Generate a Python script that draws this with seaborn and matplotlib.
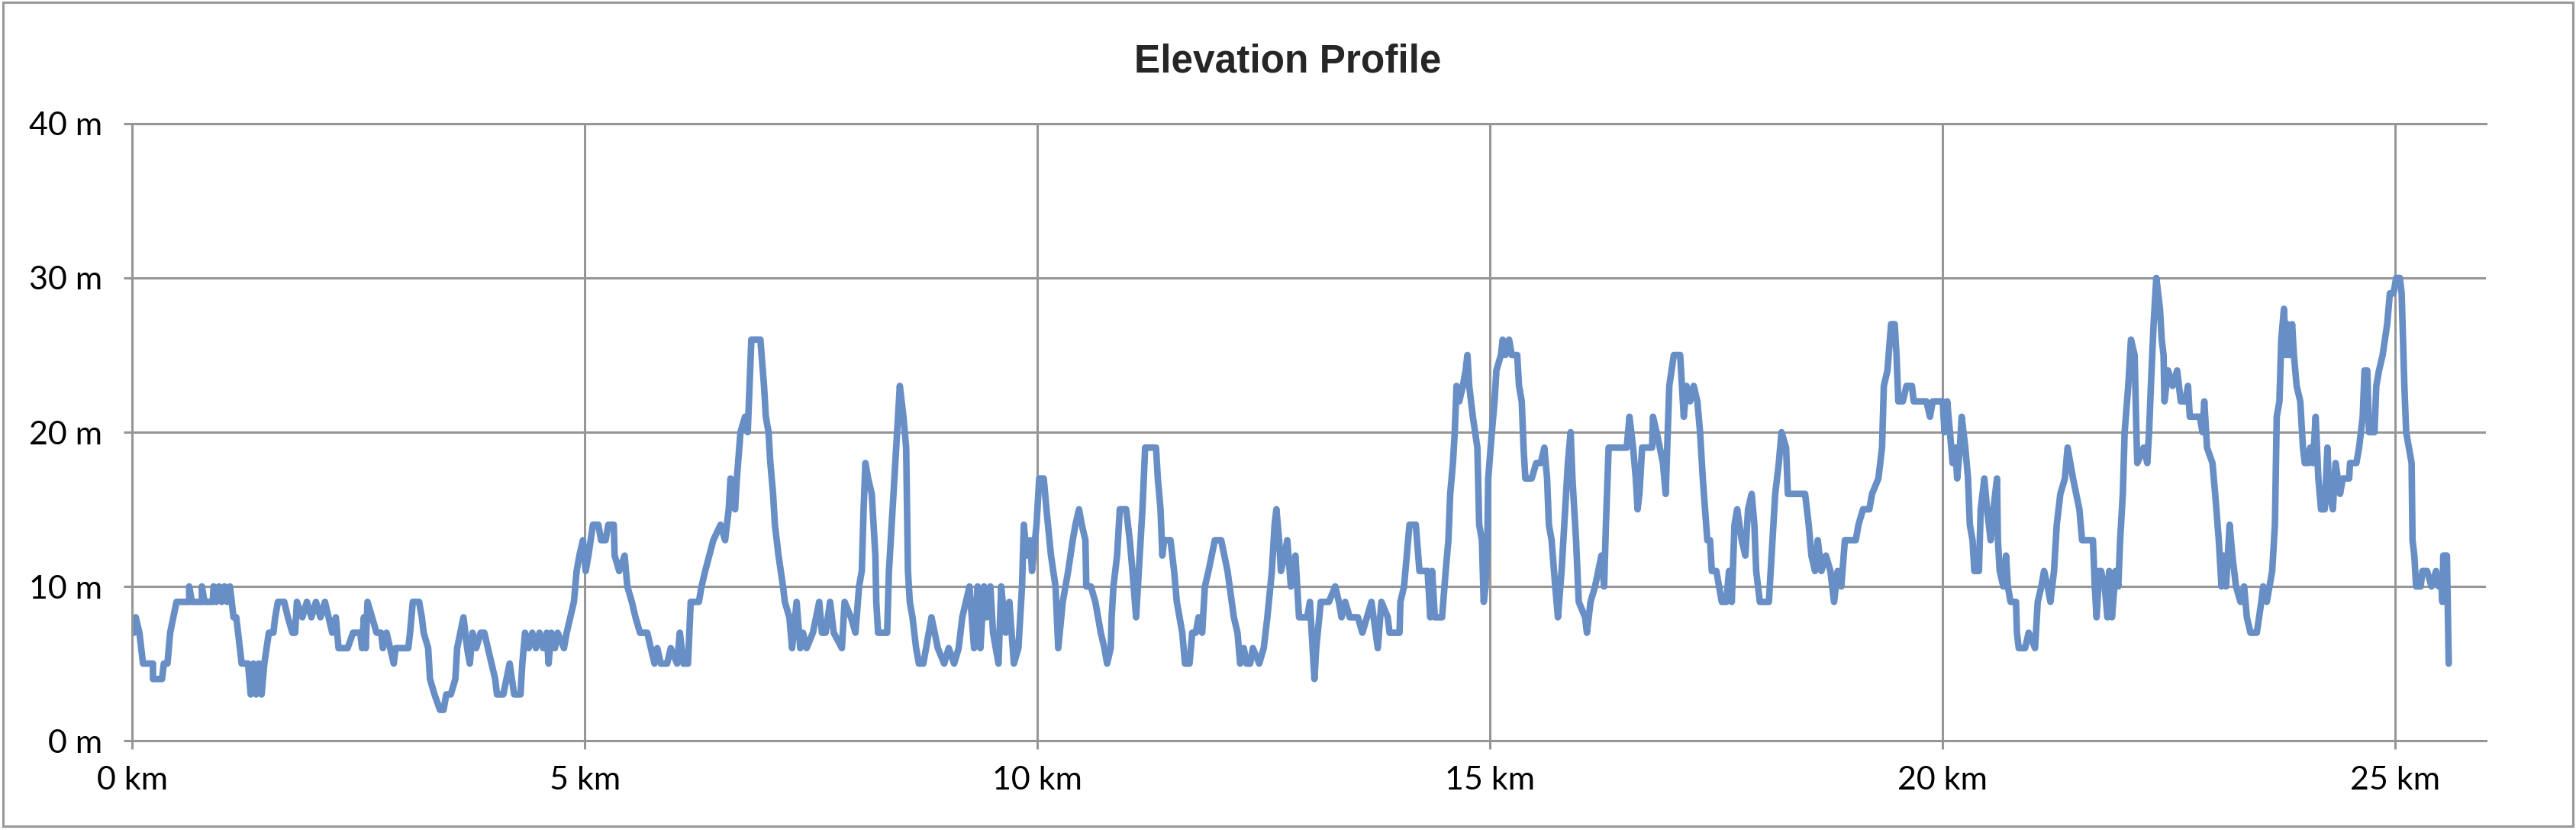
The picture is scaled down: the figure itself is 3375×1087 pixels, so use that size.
import matplotlib
matplotlib.use("Agg")
import matplotlib.pyplot as plt
import matplotlib.patches as patches
import seaborn as sns

# Elevation profile (km, m)
distance_km = [
    0.00, 0.02, 0.04, 0.08, 0.12, 0.23, 0.23, 0.33, 0.35, 0.39, 0.42, 0.49, 0.63, 0.63, 0.66, 0.77,
    0.77, 0.80, 0.89, 0.90, 0.93, 0.96, 0.99, 1.02, 1.05, 1.08, 1.12, 1.15, 1.21, 1.28, 1.31, 1.34,
    1.37, 1.40, 1.43, 1.46, 1.51, 1.56, 1.58, 1.61, 1.68, 1.72, 1.77, 1.80, 1.82, 1.88, 1.93, 1.98,
    2.03, 2.08, 2.13, 2.17, 2.21, 2.25, 2.28, 2.38, 2.44, 2.52, 2.54, 2.56, 2.58, 2.60, 2.65, 2.70,
    2.75, 2.77, 2.81, 2.85, 2.89, 2.91, 3.05, 3.07, 3.10, 3.17, 3.20, 3.22, 3.27, 3.29, 3.34, 3.40,
    3.44, 3.47, 3.52, 3.57, 3.59, 3.66, 3.70, 3.73, 3.76, 3.80, 3.85, 3.89, 3.93, 3.97, 4.01, 4.03,
    4.10, 4.17, 4.22, 4.29, 4.31, 4.34, 4.38, 4.42, 4.46, 4.50, 4.54, 4.58, 4.60, 4.63, 4.67, 4.70,
    4.77, 4.80, 4.84, 4.88, 4.91, 4.94, 4.98, 5.01, 5.04, 5.09, 5.15, 5.18, 5.23, 5.26, 5.32, 5.33,
    5.38, 5.44, 5.47, 5.52, 5.56, 5.61, 5.69, 5.73, 5.77, 5.80, 5.84, 5.91, 5.95, 6.02, 6.05, 6.09,
    6.14, 6.17, 6.26, 6.29, 6.33, 6.42, 6.50, 6.55, 6.59, 6.61, 6.64, 6.66, 6.68, 6.72, 6.77, 6.80,
    6.82, 6.84, 6.94, 6.98, 7.00, 7.03, 7.05, 7.08, 7.10, 7.14, 7.19, 7.21, 7.26, 7.29, 7.34, 7.38,
    7.41, 7.45, 7.52, 7.59, 7.62, 7.66, 7.71, 7.75, 7.84, 7.87, 7.94, 7.99, 8.03, 8.06, 8.08, 8.10,
    8.13, 8.17, 8.19, 8.21, 8.22, 8.24, 8.34, 8.36, 8.38, 8.41, 8.45, 8.48, 8.52, 8.55, 8.57, 8.59,
    8.62, 8.66, 8.69, 8.74, 8.80, 8.83, 8.90, 8.97, 9.02, 9.08, 9.13, 9.17, 9.25, 9.30, 9.34, 9.37,
    9.41, 9.44, 9.48, 9.51, 9.57, 9.60, 9.65, 9.69, 9.74, 9.79, 9.83, 9.85, 9.88, 9.92, 9.94, 9.99,
    10.02, 10.07, 10.10, 10.15, 10.20, 10.23, 10.28, 10.34, 10.39, 10.42, 10.46, 10.49, 10.53, 10.54,
    10.59, 10.64, 10.70, 10.74, 10.77, 10.81, 10.82, 10.84, 10.88, 10.91, 10.98, 11.02, 11.05, 11.09,
    11.12, 11.16, 11.19, 11.31, 11.33, 11.36, 11.38, 11.40, 11.47, 11.51, 11.54, 11.60, 11.63, 11.68,
    11.71, 11.75, 11.78, 11.82, 11.85, 11.89, 11.96, 12.03, 12.10, 12.17, 12.21, 12.24, 12.28, 12.31,
    12.35, 12.38, 12.45, 12.50, 12.54, 12.59, 12.62, 12.64, 12.67, 12.69, 12.73, 12.76, 12.80, 12.85,
    12.89, 12.98, 13.01, 13.03, 13.06, 13.08, 13.13, 13.22, 13.29, 13.33, 13.36, 13.40, 13.45, 13.54,
    13.59, 13.64, 13.69, 13.76, 13.80, 13.87, 13.89, 14.00, 14.01, 14.05, 14.11, 14.18, 14.22, 14.31,
    14.34, 14.36, 14.39, 14.47, 14.51, 14.54, 14.56, 14.59, 14.61, 14.63, 14.66, 14.70, 14.73, 14.75,
    14.77, 14.81, 14.86, 14.88, 14.91, 14.93, 14.95, 14.97, 14.98, 15.02, 15.05, 15.07, 15.12, 15.14,
    15.17, 15.21, 15.24, 15.30, 15.32, 15.35, 15.37, 15.39, 15.46, 15.51, 15.56, 15.60, 15.63, 15.65,
    15.68, 15.72, 15.75, 15.79, 15.82, 15.86, 15.89, 15.91, 15.95, 15.98, 16.05, 16.07, 16.11, 16.16,
    16.23, 16.26, 16.28, 16.31, 16.51, 16.54, 16.58, 16.61, 16.63, 16.65, 16.68, 16.79, 16.80, 16.84,
    16.91, 16.94, 16.98, 17.03, 17.10, 17.14, 17.17, 17.21, 17.25, 17.29, 17.32, 17.35, 17.40, 17.43,
    17.45, 17.50, 17.56, 17.61, 17.64, 17.67, 17.70, 17.73, 17.78, 17.82, 17.85, 17.89, 17.92, 17.94,
    17.98, 18.08, 18.12, 18.15, 18.19, 18.22, 18.27, 18.29, 18.48, 18.52, 18.55, 18.59, 18.62, 18.66,
    18.71, 18.76, 18.80, 18.84, 18.88, 18.92, 19.04, 19.07, 19.12, 19.19, 19.22, 19.29, 19.33, 19.35,
    19.39, 19.43, 19.47, 19.49, 19.51, 19.56, 19.60, 19.66, 19.68, 19.82, 19.86, 19.89, 20.00, 20.02,
    20.05, 20.08, 20.11, 20.14, 20.16, 20.19, 20.21, 20.25, 20.28, 20.30, 20.33, 20.35, 20.40, 20.42,
    20.46, 20.49, 20.53, 20.56, 20.60, 20.61, 20.63, 20.67, 20.70, 20.72, 20.75, 20.81, 20.82, 20.84,
    20.91, 20.95, 21.02, 21.05, 21.09, 21.12, 21.16, 21.19, 21.23, 21.26, 21.30, 21.35, 21.38, 21.44,
    21.51, 21.54, 21.66, 21.68, 21.70, 21.73, 21.75, 21.79, 21.82, 21.84, 21.87, 21.91, 21.94, 21.96,
    21.99, 22.01, 22.05, 22.08, 22.12, 22.14, 22.15, 22.22, 22.26, 22.28, 22.30, 22.33, 22.34, 22.36,
    22.40, 22.42, 22.44, 22.45, 22.49, 22.54, 22.59, 22.63, 22.68, 22.71, 22.73, 22.84, 22.87, 22.89,
    22.92, 22.98, 23.01, 23.05, 23.08, 23.10, 23.13, 23.17, 23.20, 23.24, 23.29, 23.33, 23.36, 23.40,
    23.47, 23.52, 23.54, 23.58, 23.61, 23.64, 23.67, 23.69, 23.72, 23.74, 23.77, 23.79, 23.81, 23.83,
    23.86, 23.88, 23.91, 23.95, 23.98, 24.00, 24.04, 24.06, 24.09, 24.12, 24.15, 24.18, 24.22, 24.25,
    24.27, 24.31, 24.34, 24.39, 24.42, 24.49, 24.50, 24.57, 24.60, 24.64, 24.66, 24.69, 24.71, 24.77,
    24.79, 24.82, 24.86, 24.91, 24.94, 24.98, 25.01, 25.05, 25.07, 25.09, 25.10, 25.12, 25.18, 25.19,
    25.21, 25.23, 25.28, 25.30, 25.35, 25.40, 25.45, 25.48, 25.51, 25.52, 25.53, 25.57, 25.59,
]
elevation_m = [
    8, 7, 8, 7, 5, 5, 4, 4, 5, 5, 7, 9, 9, 10, 9, 9,
    10, 9, 9, 10, 9, 10, 9, 10, 9, 10, 8, 8, 5, 5, 3, 5,
    3, 5, 3, 5, 7, 7, 8, 9, 9, 8, 7, 7, 9, 8, 9, 8,
    9, 8, 9, 8, 7, 8, 6, 6, 7, 7, 6, 8, 6, 9, 8, 7,
    7, 6, 7, 6, 5, 6, 6, 7, 9, 9, 8, 7, 6, 4, 3, 2,
    2, 3, 3, 4, 6, 8, 6, 5, 7, 6, 7, 7, 6, 5, 4, 3,
    3, 5, 3, 3, 5, 7, 6, 7, 6, 7, 6, 7, 5, 7, 6, 7,
    6, 7, 8, 9, 11, 12, 13, 11, 12, 14, 14, 13, 13, 14, 14, 12,
    11, 12, 10, 9, 8, 7, 7, 6, 5, 6, 5, 5, 6, 5, 7, 5,
    5, 9, 9, 10, 11, 13, 14, 13, 15, 17, 16, 15, 17, 20, 21, 20,
    23, 26, 26, 23, 21, 20, 18, 16, 14, 12, 10, 9, 8, 6, 9, 6,
    7, 6, 7, 9, 7, 7, 9, 7, 6, 9, 8, 7, 10, 11, 15, 18,
    17, 16, 14, 12, 9, 7, 7, 11, 13, 16, 20, 23, 21, 19, 11, 9,
    8, 6, 5, 5, 7, 8, 6, 5, 6, 5, 6, 8, 10, 6, 10, 6,
    10, 8, 10, 7, 5, 10, 7, 9, 5, 6, 10, 14, 12, 13, 11, 14,
    17, 17, 15, 12, 10, 6, 9, 11, 13, 14, 15, 14, 13, 10,
    10, 9, 7, 6, 5, 6, 8, 10, 12, 15, 15, 13, 11, 8,
    11, 15, 19, 19, 17, 15, 12, 13, 13, 11, 9, 7, 5, 5,
    7, 7, 8, 7, 10, 11, 13, 13, 11, 8, 7, 5, 6, 5,
    5, 6, 5, 6, 8, 11, 14, 15, 13, 11, 12, 13, 10, 12,
    8, 8, 9, 7, 4, 6, 9, 9, 10, 9, 8, 9, 8, 8,
    7, 8, 9, 6, 9, 8, 7, 7, 9, 10, 14, 14, 11, 11,
    8, 11, 8, 8, 11, 13, 16, 18, 20, 23, 22, 23, 24, 25,
    23, 21, 19, 14, 13, 9, 10, 13, 17, 20, 22, 24, 25, 26,
    25, 26, 25, 25, 23, 22, 19, 17, 17, 18, 18, 19, 17, 14,
    13, 10, 8, 11, 14, 18, 20, 17, 13, 9, 8, 7, 9, 10,
    12, 10, 14, 19, 19, 21, 19, 17, 15, 16, 19, 19, 21, 20,
    18, 16, 23, 25, 25, 21, 23, 22, 23, 22, 20, 17, 13, 13,
    11, 11, 9, 9, 11, 9, 14, 15, 13, 12, 15, 16, 14, 11,
    9, 9, 13, 16, 18, 20, 19, 16, 16, 14, 12, 11, 13, 11,
    12, 11, 9, 11, 10, 13, 13, 14, 15, 15, 16, 17, 19, 23,
    24, 27, 27, 25, 22, 22, 23, 23, 22, 22, 21, 22, 22, 20,
    22, 20, 18, 19, 17, 19, 21, 19, 17, 14, 13, 11, 11, 15,
    17, 15, 13, 15, 17, 13, 11, 10, 12, 10, 9, 9, 7, 6,
    6, 7, 6, 9, 10, 11, 10, 9, 11, 14, 16, 17, 19, 17,
    15, 13, 13, 10, 8, 11, 11, 10, 8, 11, 8, 11, 10, 13,
    16, 20, 23, 26, 25, 20, 18, 19, 18, 20, 23, 27, 28, 30,
    28, 26, 25, 22, 24, 23, 24, 22, 22, 23, 21, 21, 20, 22,
    19, 18, 16, 13, 10, 12, 10, 14, 12, 10, 9, 10, 8, 7,
    7, 9, 10, 9, 10, 11, 14, 21, 22, 26, 28, 25, 27, 25,
    27, 25, 23, 22, 19, 18, 18, 19, 18, 21, 17, 15, 15, 19,
    16, 15, 18, 16, 17, 17, 18, 18, 19, 21, 24, 24, 20, 20,
    23, 24, 25, 27, 29, 29, 30, 30, 29, 25, 23, 20, 18, 13,
    12, 10, 10, 11, 11, 10, 11, 10, 10, 9, 12, 12, 5,
]

x_ticks = [0, 5, 10, 15, 20, 25]
x_tick_labels = ["0 km", "5 km", "10 km", "15 km", "20 km", "25 km"]
y_ticks = [0, 10, 20, 30, 40]
y_tick_labels = ["0 m", "10 m", "20 m", "30 m", "40 m"]
title = "Elevation Profile"

sns.set_style("white")
plt.rcParams["font.family"] = ["Lato", "DejaVu Sans"]

grid_grey = "#969696"
line_blue = "#688ec6"

fig = plt.figure(figsize=(33.75, 10.87), dpi=100)
ax = fig.add_axes([0.0513, 0.1076, 0.9137, 0.7434])

sns.lineplot(x=distance_km, y=elevation_m, estimator=None, sort=False,
             color=line_blue, linewidth=6.2, ax=ax,
             solid_joinstyle="round", solid_capstyle="round")

ax.set_xlim(0, 26)
ax.set_ylim(0, 40)
ax.set_xticks(x_ticks)
ax.set_xticklabels(x_tick_labels)
ax.set_yticks(y_ticks)
ax.set_yticklabels(y_tick_labels)
ax.set_xlabel("")
ax.set_ylabel("")

ax.grid(True, color=grid_grey, linewidth=2.2)
ax.set_axisbelow(True)
for side in ["left", "bottom", "top"]:
    ax.spines[side].set_visible(True)
    ax.spines[side].set_color(grid_grey)
    ax.spines[side].set_linewidth(2.2)
ax.spines["right"].set_visible(False)

ax.tick_params(axis="both", which="major", direction="out", length=8, width=2.2,
               color=grid_grey, labelsize=31, labelcolor="black")
ax.tick_params(axis="x", pad=16)
ax.tick_params(axis="y", pad=20)
ax.tick_params(left=True, bottom=True)

fig.text(0.5, 1 - 95 / 1087, title, ha="center", va="baseline",
         fontsize=37, fontweight="bold", family=["Liberation Sans", "DejaVu Sans"])

# outer frame around the whole chart
fig.patches.append(patches.Rectangle((0.0012, 0.0045), 0.9976, 0.9925,
                                     transform=fig.transFigure, fill=False,
                                     edgecolor="#999999", linewidth=2.2))

fig.savefig("out.png", dpi=100)
